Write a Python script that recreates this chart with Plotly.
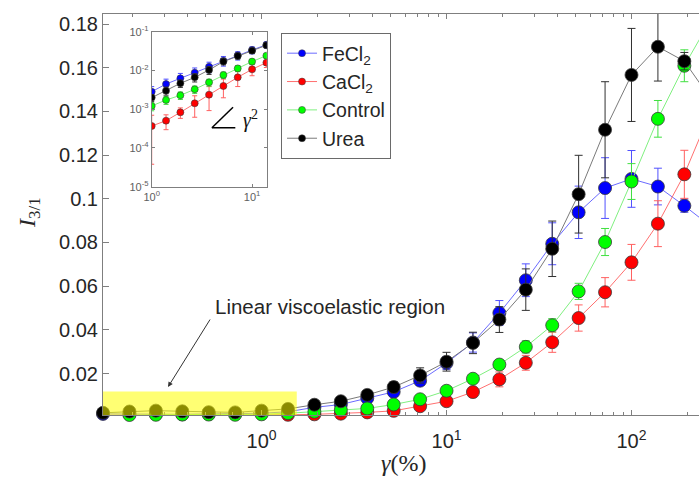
import plotly.graph_objects as go

# Strain amplitude (%) of the sweep, log-spaced at 7 points per decade
strain = [0.1389, 0.1931, 0.2683, 0.3728, 0.5179, 0.7197, 1.0, 1.3895,
          1.9307, 2.6827, 3.7276, 5.1795, 7.1969, 10.0, 13.895, 19.307,
          26.827, 37.276, 51.795, 71.969, 100.0, 138.95, 193.07, 268.27]

# I3/1 for each condition with its error
i31_fecl2 = [0.0015, 0.0014, 0.0014, 0.0013, 0.0015, 0.0015, 0.0018, 0.0025,
             0.0045, 0.0058, 0.0087, 0.0116, 0.0167, 0.0248, 0.0342, 0.0477,
             0.0627, 0.0794, 0.0938, 0.1049, 0.1091, 0.1056, 0.0968, 0.0874]
err_fecl2 = [0.0004, 0.0004, 0.0004, 0.0004, 0.0004, 0.0004, 0.0004, 0.0006,
             0.0008, 0.0010, 0.0012, 0.0016, 0.0022, 0.0030, 0.0044, 0.0057,
             0.0075, 0.0096, 0.0120, 0.0139, 0.0130, 0.0084, 0.0030, 0.0060]

i31_cacl2 = [0.0008, 0.0009, 0.0009, 0.0009, 0.0008, 0.0008, 0.0009, 0.0011,
             0.0013, 0.0016, 0.0022, 0.0029, 0.0050, 0.0073, 0.0115, 0.0173,
             0.0249, 0.0343, 0.0454, 0.0572, 0.0709, 0.0886, 0.1112, 0.1400]
err_cacl2 = [0.0003, 0.0003, 0.0003, 0.0003, 0.0003, 0.0003, 0.0003, 0.0003,
             0.0004, 0.0005, 0.0007, 0.0009, 0.0012, 0.0016, 0.0022, 0.0034,
             0.0034, 0.0046, 0.0060, 0.0067, 0.0082, 0.0105, 0.0110, 0.0120]

i31_control = [0.0006, 0.0010, 0.0011, 0.0012, 0.0012, 0.0011, 0.0013, 0.0018,
               0.0025, 0.0033, 0.0040, 0.0058, 0.0082, 0.0121, 0.0176, 0.0241,
               0.0322, 0.0421, 0.0576, 0.0802, 0.1079, 0.1366, 0.1609, 0.1820]
err_control = [0.0003, 0.0003, 0.0003, 0.0003, 0.0003, 0.0003, 0.0003, 0.0004,
               0.0005, 0.0006, 0.0008, 0.0010, 0.0012, 0.0015, 0.0018, 0.0020,
               0.0028, 0.0030, 0.0037, 0.0062, 0.0082, 0.0084, 0.0073, 0.0060]

i31_urea = [0.0020, 0.0026, 0.0030, 0.0027, 0.0023, 0.0022, 0.0030, 0.0038,
            0.0057, 0.0073, 0.0102, 0.0138, 0.0191, 0.0254, 0.0340, 0.0447,
            0.0584, 0.0771, 0.1021, 0.1316, 0.1567, 0.1696, 0.1630, 0.1457]
err_urea = [0.0004, 0.0004, 0.0004, 0.0004, 0.0004, 0.0004, 0.0004, 0.0006,
            0.0008, 0.0010, 0.0015, 0.0025, 0.0035, 0.0043, 0.0049, 0.0059,
            0.0095, 0.0127, 0.0178, 0.0220, 0.0213, 0.0157, 0.0040, 0.0060]

# Inset: low-strain data on log-log axes
inset_strain = [1.0, 1.3895, 1.9307, 2.6827, 3.7276, 5.1795, 7.1969, 10.0, 13.895]
inset_fecl2 = [2.83e-3, 4.46e-3, 6.27e-3, 8.77e-3, 1.25e-2, 1.79e-2, 2.45e-2, 3.37e-2, 4.6e-2]
inset_err_fecl2 = [1.0e-3, 1.5e-3, 2.1e-3, 2.8e-3, 3.8e-3, 5.0e-3, 6.0e-3, 7.0e-3, 8.0e-3]
inset_cacl2 = [3.68e-4, 5.06e-4, 8.3e-4, 1.42e-3, 2.37e-3, 3.97e-3, 6.64e-3, 1.07e-2, 1.59e-2]
inset_err_cacl2 = [3.3e-4, 2.1e-4, 2.5e-4, 8.0e-4, 1.45e-3, 2.0e-3, 2.8e-3, 3.4e-3, 4.0e-3]
inset_control = [1.21e-3, 1.73e-3, 2.28e-3, 3.26e-3, 4.93e-3, 7.63e-3, 1.13e-2, 1.69e-2, 2.41e-2]
inset_err_control = [3e-4, 4e-4, 5e-4, 7e-4, 1.0e-3, 1.4e-3, 2.0e-3, 2.5e-3, 3.0e-3]
inset_urea = [1.99e-3, 3.0e-3, 4.65e-3, 6.64e-3, 1.03e-2, 1.69e-2, 2.36e-2, 3.24e-2, 4.45e-2]
inset_err_urea = [4e-4, 7e-4, 1.0e-3, 1.6e-3, 2.4e-3, 3.0e-3, 4.0e-3, 5.0e-3, 6.0e-3]

series_names = ["FeCl<sub>2</sub>", "CaCl<sub>2</sub>", "Control", "Urea"]
marker_colors = ["#0000ff", "#ff0000", "#00ff00", "#000000"]
line_colors = ["#6b6bff", "#ff7070", "#80f080", "#7a7a7a"]
bar_colors = ["#5050ff", "#ff6060", "#40e040", "#303030"]

main_y = [i31_fecl2, i31_cacl2, i31_control, i31_urea]
main_err = [err_fecl2, err_cacl2, err_control, err_urea]
inset_y = [inset_fecl2, inset_cacl2, inset_control, inset_urea]
inset_err = [inset_err_fecl2, inset_err_cacl2, inset_err_control, inset_err_urea]

main_xticks = [1, 10, 100]
main_xticktext = ["10<sup>0</sup>", "10<sup>1</sup>", "10<sup>2</sup>"]
main_yticks = [0.02, 0.04, 0.06, 0.08, 0.10, 0.12, 0.14, 0.16, 0.18]
main_yticktext = ["0.02", "0.04", "0.06", "0.08", "0.1", "0.12", "0.14", "0.16", "0.18"]
inset_xticks = [1, 10]
inset_xticktext = ["10<sup>0</sup>", "10<sup>1</sup>"]
inset_yticks = [1e-5, 1e-4, 1e-3, 1e-2, 1e-1]
inset_yticktext = ["10<sup>-5</sup>", "10<sup>-4</sup>", "10<sup>-3</sup>", "10<sup>-2</sup>", "10<sup>-1</sup>"]

minor_x = [m * 10 ** e for e in (-1, 0, 1, 2) for m in range(2, 10)]

fig = go.Figure()

for name, ys, es, mc, lc, bc in zip(series_names, main_y, main_err,
                                    marker_colors, line_colors, bar_colors):
    fig.add_trace(go.Scatter(
        x=strain, y=ys, mode="lines+markers", name=name, showlegend=False,
        line=dict(color=lc, width=1),
        marker=dict(size=13, color=mc, line=dict(color="#3a3a3a", width=0.8)),
        error_y=dict(type="data", array=es, color=bc, thickness=1, width=4),
        cliponaxis=False,
        xaxis="x", yaxis="y"))

for name, ys, es, mc, lc, bc in zip(series_names, inset_y, inset_err,
                                    marker_colors, line_colors, bar_colors):
    fig.add_trace(go.Scatter(
        x=inset_strain, y=ys, mode="lines+markers", showlegend=False,
        line=dict(color=lc, width=1),
        marker=dict(size=7, color=mc, line=dict(color="#3a3a3a", width=0.6)),
        error_y=dict(type="data", array=es, color=bc, thickness=1, width=2.5),
        xaxis="x2", yaxis="y2"))

# legend entries with small symbols
for name, mc, lc in zip(series_names, marker_colors, line_colors):
    fig.add_trace(go.Scatter(
        x=[None], y=[None], mode="lines+markers", name=name,
        line=dict(color=lc, width=1),
        marker=dict(size=7, color=mc, line=dict(color="#3a3a3a", width=0.5)),
        xaxis="x", yaxis="y"))

axis_col = "#7f7f7f"
sans = "Liberation Sans, Arial, sans-serif"
tick_font = dict(family=sans, size=20, color="#262626")
inset_font = dict(family=sans, size=11, color="#606060")

fig.update_layout(
    width=699, height=484,
    margin=dict(l=103, r=0, t=14, b=69),
    paper_bgcolor="white", plot_bgcolor="white",
    showlegend=True,
    legend=dict(x=0.2987, y=0.9526, xanchor="left", yanchor="top",
                bgcolor="white", bordercolor="#6a6a6a", borderwidth=1,
                font=dict(family=sans, size=19.5, color="#262626"),
                tracegroupgap=0),
    xaxis=dict(type="log", range=[-0.8573, 2.365], domain=[0, 1],
               showline=True, linecolor=axis_col, linewidth=1, mirror="ticks",
               ticks="inside", ticklen=5, tickcolor=axis_col,
               tickvals=main_xticks, ticktext=main_xticktext, tickfont=tick_font,
               ticklabelstandoff=8,
               minor=dict(ticks="inside", ticklen=3, tickcolor=axis_col, tickvals=minor_x),
               showgrid=False, zeroline=False),
    yaxis=dict(range=[0.001, 0.1846], domain=[0, 1],
               showline=True, linecolor=axis_col, linewidth=1, mirror=False,
               ticks="inside", ticklen=6, tickcolor=axis_col,
               tickvals=main_yticks, ticktext=main_yticktext, tickfont=tick_font,
               showgrid=False, zeroline=False),
    xaxis2=dict(type="log", range=[0, 1.146], domain=[0.0817, 0.2747], anchor="y2",
                showline=True, linecolor=axis_col, linewidth=1, mirror="ticks",
                ticks="inside", ticklen=3, tickcolor=axis_col,
                tickvals=inset_xticks, ticktext=inset_xticktext, tickfont=inset_font,
                showgrid=False, zeroline=False),
    yaxis2=dict(type="log", range=[-5, -1], domain=[0.5693, 0.9559], anchor="x2",
                showline=True, linecolor=axis_col, linewidth=1, mirror="ticks",
                ticks="inside", ticklen=3, tickcolor=axis_col,
                tickvals=inset_yticks, ticktext=inset_yticktext, tickfont=inset_font,
                showgrid=False, zeroline=False),
)

# highlighted linear viscoelastic window
fig.add_shape(type="rect", xref="x", yref="y", x0=strain[0], x1=1.55, y0=0, y1=0.0118,
              fillcolor="#ffff00", opacity=0.55, line=dict(width=0), layer="above")

# slope-2 guide in the inset
fig.add_shape(type="line", xref="x2", yref="y2", x0=3.98, y0=3.33e-4, x1=6.81, y1=3.33e-4,
              line=dict(color="black", width=1.5))
fig.add_shape(type="line", xref="x2", yref="y2", x0=3.98, y0=3.33e-4, x1=6.46, y1=1.12e-3,
              line=dict(color="black", width=1.5))
fig.add_annotation(xref="paper", yref="paper", x=0.232, y=0.772, showarrow=False,
                   text="<i>γ</i><sup>2</sup>",
                   font=dict(family="Liberation Serif, serif", size=20, color="#111111"))

# annotation arrow and label
fig.add_annotation(xref="paper", yref="paper", x=(168 - 103) / 596, y=(415 - 387) / 401,
                   ax=43, ay=-69, text="", showarrow=True, arrowhead=2, arrowsize=1,
                   arrowwidth=1, arrowcolor="#333333")
fig.add_annotation(xref="paper", yref="paper", x=0.1845, y=0.2706, xanchor="left",
                   yanchor="middle", showarrow=False, text="Linear viscoelastic region",
                   font=dict(family=sans, size=20.5, color="#262626"))

# axis titles
fig.add_annotation(xref="paper", yref="paper", x=0.5034, y=-0.156, showarrow=False,
                   text="<i>γ</i>(%)",
                   font=dict(family="Liberation Serif, serif", size=24, color="#262626"))
fig.add_annotation(xref="paper", yref="paper", x=-0.152, y=0.505, showarrow=False,
                   textangle=-90, text="<i>I</i><sub>3/1</sub>",
                   font=dict(family="Liberation Serif, serif", size=24, color="#262626"))

fig.write_html("out.html")
